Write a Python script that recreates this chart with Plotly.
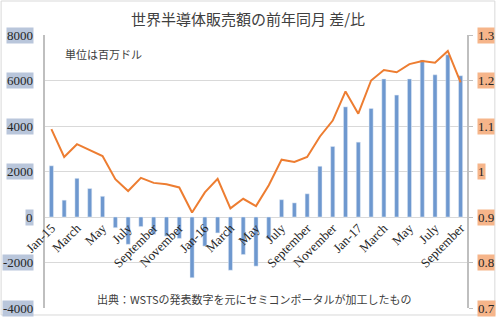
import plotly.graph_objects as go

# ---- data ----
months = list(range(33))  # Jan-15 .. Sep-17
diff_musd = [2250, 740, 1700, 1250, 910, -470, -1200, -420, -760, -840, -940, -2670,
             -1280, -700, -2340, -1650, -2160, -960, 760, 620, 1020, 2230, 3100, 4840,
             3290, 4770, 6070, 5360, 6070, 6900, 6250, 7130, 6210]
ratio = [1.093, 1.032, 1.060, 1.047, 1.034, 0.983, 0.957, 0.986, 0.975, 0.972, 0.965, 0.910,
         0.954, 0.984, 0.919, 0.940, 0.924, 0.970, 1.026, 1.021, 1.032, 1.077, 1.112, 1.176,
         1.127, 1.200, 1.223, 1.218, 1.236, 1.243, 1.239, 1.265, 1.196]
x_tickvals = [0, 2, 4, 6, 8, 10, 12, 14, 16, 18, 20, 22, 24, 26, 28, 30, 32]
x_ticktext = ["Jan-15", "March", "May", "July", "September", "November",
              "Jan-16", "March", "May", "July", "September", "November",
              "Jan-17", "March", "May", "July", "September"]
left_ticks = [-4000, -2000, 0, 2000, 4000, 6000, 8000]
left_labels = ["-4000", "-2000", "0", "2000", "4000", "6000", "8000"]
right_ticks = [0.7, 0.8, 0.9, 1.0, 1.1, 1.2, 1.3]
right_labels = ["0.7", "0.8", "0.9", "1", "1.1", "1.2", "1.3"]

title = "世界半導体販売額の前年同月 差/比"
unit_note = "単位は百万ドル"
source_note = "出典：WSTSの発表数字を元にセミコンポータルが加工したもの"

JP = "Noto Sans CJK JP"
SERIF = "Liberation Serif"

fig = go.Figure()
fig.add_trace(go.Bar(x=months, y=diff_musd, marker_color="#6e98cf", width=0.32,
                     yaxis="y", name="差"))
fig.add_trace(go.Scatter(x=months, y=ratio, mode="lines", yaxis="y2",
                         line=dict(color="#ed7d31", width=2), name="比"))

annotations = []
for v, t in zip(left_ticks, left_labels):
    annotations.append(dict(x=-0.026, xref="paper", y=v, yref="y", text=t,
                            showarrow=False, xanchor="right", yanchor="middle",
                            bgcolor="#b9c6db", borderpad=0,
                            font=dict(family=SERIF, size=13, color="#262626")))
for v, t in zip(right_ticks, right_labels):
    annotations.append(dict(x=1.024, xref="paper", y=v, yref="y2", text=t,
                            showarrow=False, xanchor="left", yanchor="middle",
                            bgcolor="#f6b58a", borderpad=0,
                            font=dict(family=SERIF, size=13, color="#262626")))
annotations.append(dict(x=0.043, xref="paper", y=0.93, yref="paper", text=unit_note,
                        showarrow=False, xanchor="left", yanchor="middle",
                        font=dict(family=JP, size=11, color="#404040")))
annotations.append(dict(x=0.118, xref="paper", y=0.033, yref="paper", text=source_note,
                        showarrow=False, xanchor="left", yanchor="middle",
                        font=dict(family=JP, size=11, color="#404040")))

fig.update_layout(
    width=497, height=323,
    margin=dict(l=45, r=30, t=35, b=15),
    paper_bgcolor="white", plot_bgcolor="white",
    showlegend=False,
    title=dict(text=title, x=0.499, xanchor="center", y=0.938, yanchor="middle",
               font=dict(family=JP, size=15, color="#404040")),
    xaxis=dict(range=[-0.5, 32.5], tickmode="array", tickvals=x_tickvals,
               ticktext=x_ticktext, tickangle=-45, anchor="free", position=1/3,
               showgrid=False, zeroline=False, showline=False, ticks="",
               tickfont=dict(family=SERIF, size=13, color="#262626")),
    yaxis=dict(range=[-4000, 8000], tickmode="array", tickvals=left_ticks,
               showticklabels=False, showgrid=True, gridcolor="#d9d9d9", gridwidth=1,
               zeroline=False, showline=True, linecolor="#bfbfbf", linewidth=1.5,
               ticks=""),
    yaxis2=dict(range=[0.7, 1.3], tickmode="array", tickvals=right_ticks,
                overlaying="y", side="right", showticklabels=False, showgrid=False,
                zeroline=False, showline=True, linecolor="#bfbfbf", linewidth=1.5,
                ticks="outside", ticklen=4, tickcolor="#bfbfbf"),
    annotations=annotations,
    shapes=[dict(type="rect", xref="paper", yref="paper",
                 x0=-0.104, x1=1.066, y0=-0.0256, y1=1.1245,
                 line=dict(color="#d9d9d9", width=1), layer="below")],
    bargap=0.6,
)

fig.write_html("out.html")
